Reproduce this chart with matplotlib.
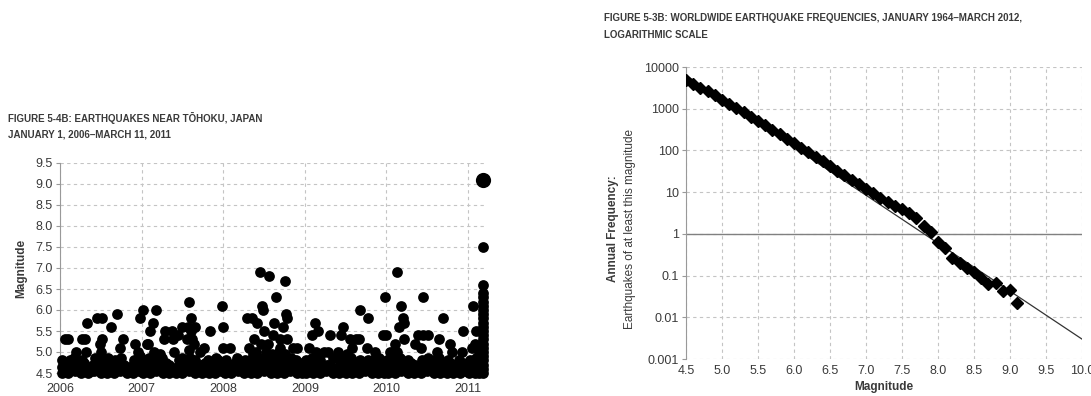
import matplotlib
matplotlib.use('Agg')
import matplotlib.pyplot as plt
from matplotlib.ticker import FixedLocator

plt.rcParams['font.family'] = ['Liberation Sans', 'DejaVu Sans']

# ---- Figure 5-4B: quakes near Tohoku, (fraction of year, magnitude) ----
eq_2006 = [(0.02, 4.5), (0.02, 4.65), (0.03, 4.8), (0.10, 4.5), (0.09, 4.7), (0.12, 4.8),
           (0.18, 4.55), (0.19, 4.7), (0.17, 4.85), (0.26, 4.5), (0.25, 4.65), (0.27, 4.8),
           (0.34, 4.5), (0.36, 4.6), (0.42, 4.55), (0.41, 4.7), (0.43, 4.85), (0.50, 4.5),
           (0.49, 4.65), (0.51, 4.8), (0.58, 4.5), (0.57, 4.7), (0.59, 4.85), (0.66, 4.5),
           (0.65, 4.65), (0.67, 4.8), (0.74, 4.55), (0.73, 4.7), (0.75, 4.85), (0.82, 4.5),
           (0.81, 4.65), (0.90, 4.5), (0.89, 4.7), (0.91, 4.8), (0.97, 4.55), (0.96, 4.7),
           (0.98, 4.9),
           (0.06, 5.3), (0.10, 5.3), (0.20, 5.0), (0.27, 5.3), (0.31, 5.3), (0.33, 5.7),
           (0.32, 5.0), (0.45, 5.8), (0.51, 5.8), (0.51, 5.3), (0.49, 5.2), (0.50, 5.0),
           (0.63, 5.6), (0.70, 5.9), (0.77, 5.3), (0.74, 5.1), (0.92, 5.2), (0.98, 5.8),
           (0.95, 5.0)]
eq_2007 = [(0.02, 4.5), (0.03, 4.65), (0.04, 4.8), (0.10, 4.5), (0.11, 4.7), (0.09, 4.85),
           (0.18, 4.55), (0.17, 4.7), (0.19, 4.8), (0.26, 4.5), (0.27, 4.65), (0.25, 4.85),
           (0.34, 4.5), (0.33, 4.7), (0.42, 4.5), (0.43, 4.65), (0.50, 4.5), (0.51, 4.7),
           (0.49, 4.85), (0.58, 4.55), (0.57, 4.7), (0.59, 4.85), (0.66, 4.5), (0.67, 4.65),
           (0.65, 4.8), (0.74, 4.5), (0.73, 4.7), (0.82, 4.5), (0.83, 4.65), (0.81, 4.8),
           (0.90, 4.5), (0.89, 4.7), (0.91, 4.85), (0.97, 4.55), (0.98, 4.7),
           (0.02, 6.0), (0.06, 5.2), (0.08, 5.2), (0.10, 5.5), (0.14, 5.7), (0.18, 6.0),
           (0.15, 5.0), (0.22, 4.95), (0.29, 5.5), (0.37, 5.5), (0.27, 5.3), (0.38, 5.3),
           (0.45, 5.4), (0.40, 5.0), (0.50, 5.6), (0.58, 6.2), (0.60, 5.8), (0.57, 5.6),
           (0.65, 5.6), (0.61, 5.5), (0.56, 5.3), (0.62, 5.3), (0.64, 5.2), (0.58, 5.05),
           (0.71, 5.0), (0.77, 5.1), (0.84, 5.5), (0.98, 6.1)]
eq_2008 = [(0.02, 4.5), (0.03, 4.65), (0.04, 4.8), (0.10, 4.5), (0.09, 4.7), (0.18, 4.55),
           (0.19, 4.7), (0.17, 4.85), (0.26, 4.5), (0.25, 4.65), (0.27, 4.8), (0.34, 4.5),
           (0.35, 4.65), (0.33, 4.8), (0.36, 4.95), (0.42, 4.5), (0.41, 4.7), (0.43, 4.85),
           (0.40, 5.0), (0.50, 4.55), (0.51, 4.7), (0.49, 4.85), (0.52, 5.0), (0.58, 4.5),
           (0.57, 4.65), (0.59, 4.8), (0.60, 4.95), (0.66, 4.5), (0.67, 4.7), (0.65, 4.85),
           (0.68, 5.0), (0.74, 4.5), (0.73, 4.65), (0.75, 4.8), (0.76, 4.95), (0.82, 4.55),
           (0.81, 4.7), (0.83, 4.85), (0.90, 4.5), (0.91, 4.65), (0.89, 4.8), (0.97, 4.5),
           (0.96, 4.7),
           (0.00, 5.6), (0.00, 5.1), (0.08, 5.1), (0.29, 5.8), (0.35, 5.8), (0.31, 5.1),
           (0.41, 5.7), (0.38, 5.3), (0.45, 6.9), (0.56, 6.8), (0.47, 6.1), (0.49, 6.0),
           (0.50, 5.5), (0.46, 5.2), (0.65, 6.3), (0.62, 5.7), (0.61, 5.4), (0.76, 6.7),
           (0.77, 5.9), (0.78, 5.8), (0.73, 5.6), (0.69, 5.3), (0.78, 5.3), (0.86, 5.1),
           (0.90, 5.1), (0.55, 5.2), (0.70, 5.1)]
eq_2009 = [(0.02, 4.5), (0.03, 4.65), (0.01, 4.8), (0.10, 4.5), (0.11, 4.7), (0.09, 4.85),
           (0.18, 4.5), (0.17, 4.65), (0.19, 4.8), (0.26, 4.55), (0.27, 4.7), (0.34, 4.5),
           (0.33, 4.65), (0.35, 4.85), (0.42, 4.5), (0.43, 4.7), (0.41, 4.85), (0.50, 4.5),
           (0.49, 4.65), (0.51, 4.8), (0.52, 4.95), (0.58, 4.5), (0.59, 4.7), (0.57, 4.85),
           (0.66, 4.5), (0.65, 4.65), (0.67, 4.8), (0.74, 4.55), (0.75, 4.7), (0.82, 4.5),
           (0.81, 4.65), (0.83, 4.8), (0.90, 4.5), (0.89, 4.7), (0.91, 4.85), (0.97, 4.5),
           (0.98, 4.65),
           (0.12, 5.7), (0.09, 5.4), (0.16, 5.5), (0.05, 5.1), (0.14, 5.0), (0.31, 5.4),
           (0.24, 5.0), (0.28, 5.0), (0.47, 5.6), (0.44, 5.4), (0.41, 5.0), (0.55, 5.3),
           (0.63, 5.3), (0.66, 5.3), (0.68, 6.0), (0.78, 5.8), (0.76, 5.1), (0.58, 5.1),
           (0.86, 5.0), (0.96, 5.4), (0.98, 6.3)]
eq_2010 = [(0.02, 4.5), (0.03, 4.65), (0.01, 4.8), (0.10, 4.5), (0.09, 4.7), (0.11, 4.85),
           (0.18, 4.55), (0.19, 4.7), (0.17, 4.85), (0.26, 4.5), (0.25, 4.65), (0.27, 4.8),
           (0.34, 4.5), (0.35, 4.7), (0.42, 4.5), (0.41, 4.65), (0.43, 4.8), (0.50, 4.55),
           (0.49, 4.7), (0.51, 4.85), (0.58, 4.5), (0.57, 4.65), (0.59, 4.8), (0.66, 4.5),
           (0.67, 4.7), (0.65, 4.85), (0.74, 4.5), (0.73, 4.65), (0.75, 4.8), (0.82, 4.5),
           (0.83, 4.7), (0.90, 4.5), (0.91, 4.65), (0.89, 4.8), (0.97, 4.55), (0.98, 4.7),
           (0.00, 5.4), (0.04, 5.0), (0.13, 6.9), (0.18, 6.1), (0.20, 5.8), (0.21, 5.7),
           (0.16, 5.6), (0.10, 5.2), (0.21, 5.3), (0.13, 5.0), (0.45, 6.3), (0.39, 5.4),
           (0.45, 5.4), (0.51, 5.4), (0.35, 5.2), (0.42, 5.1), (0.69, 5.8), (0.65, 5.3),
           (0.62, 5.0), (0.78, 5.2), (0.80, 5.0), (0.94, 5.5), (0.92, 5.0)]
eq_2011 = [(0.01, 4.5), (0.02, 4.65), (0.03, 4.8), (0.08, 4.5), (0.09, 4.7), (0.10, 4.85),
           (0.14, 4.5), (0.13, 4.65), (0.17, 4.6), (0.17, 4.9), (0.17, 5.2),
           (0.06, 6.1), (0.10, 5.5), (0.05, 5.1), (0.08, 5.2), (0.14, 5.0)]
# smaller shocks filling the 4.5-4.8 band
band_2006 = [(0.06, 4.6), (0.14, 4.75), (0.22, 4.6), (0.30, 4.75), (0.38, 4.55),
             (0.46, 4.75), (0.54, 4.6), (0.62, 4.75), (0.70, 4.6), (0.78, 4.7),
             (0.86, 4.6), (0.94, 4.75)]
band_2007 = [(0.06, 4.6), (0.14, 4.75), (0.22, 4.6), (0.30, 4.75), (0.38, 4.6),
             (0.46, 4.8), (0.54, 4.6), (0.62, 4.75), (0.70, 4.6), (0.78, 4.75),
             (0.86, 4.6), (0.94, 4.8)]
band_2008 = [(0.06, 4.6), (0.14, 4.75), (0.22, 4.6), (0.30, 4.75), (0.38, 4.6),
             (0.46, 4.8), (0.54, 4.6), (0.62, 4.8), (0.70, 4.6), (0.78, 4.75),
             (0.86, 4.6), (0.94, 4.75)]
band_2009 = [(0.06, 4.6), (0.14, 4.75), (0.22, 4.6), (0.30, 4.7), (0.38, 4.6),
             (0.46, 4.75), (0.54, 4.6), (0.62, 4.75), (0.70, 4.6), (0.78, 4.8),
             (0.86, 4.6), (0.94, 4.75)]
band_2010 = [(0.06, 4.6), (0.14, 4.75), (0.22, 4.6), (0.30, 4.75), (0.38, 4.6),
             (0.46, 4.75), (0.54, 4.6), (0.62, 4.75), (0.70, 4.6), (0.78, 4.75),
             (0.86, 4.6), (0.94, 4.75)]
band_2011 = [(0.05, 4.6), (0.12, 4.75)]
# March 9-11 2011 cluster
tohoku_mag = [7.5, 6.6, 6.4, 6.3, 6.2, 6.1, 6.0, 5.9, 5.8, 5.7, 5.6, 5.5, 5.4, 5.3,
              5.2, 5.1, 5.0, 4.9, 4.8, 4.7, 4.6, 4.5]
mainshock_mag = 9.1
tohoku_frac = 0.185
years = [2006, 2007, 2008, 2009, 2010, 2011]

# ---- Figure 5-3B: worldwide frequencies ----
freq_mag = [4.5, 4.6, 4.7, 4.8, 4.9, 5.0, 5.1, 5.2, 5.3, 5.4, 5.5, 5.6, 5.7, 5.8, 5.9,
            6.0, 6.1, 6.2, 6.3, 6.4, 6.5, 6.6, 6.7, 6.8, 6.9, 7.0, 7.1, 7.2, 7.3, 7.4,
            7.5, 7.6, 7.7, 7.8, 7.9, 8.0, 8.1, 8.2, 8.3, 8.4, 8.5, 8.6, 8.7, 8.8, 8.9,
            9.0, 9.1]
freq_annual = [4800, 3900, 3200, 2600, 2100, 1650, 1300, 1050, 830, 650, 520, 400, 310,
               245, 190, 148, 115, 90, 70, 55, 42, 33, 26, 20, 15.5, 12, 9.3, 7.3, 5.9,
               4.7, 4.0, 3.2, 2.4, 1.55, 1.08, 0.64, 0.46, 0.27, 0.2, 0.155, 0.125, 0.088,
               0.062, 0.065, 0.043, 0.044, 0.022]
fit_mag = [4.5, 10.0]
fit_freq = [6300, 0.003]
mag_ticks = [4.5, 5.0, 5.5, 6.0, 6.5, 7.0, 7.5, 8.0, 8.5, 9.0, 9.5, 10.0]
freq_ticks = [0.001, 0.01, 0.1, 1, 10, 100, 1000, 10000]
freq_labels = ['0.001', '0.01', '0.1', '1', '10', '100', '1000', '10000']

W, H = 1091, 396
fig = plt.figure(figsize=(W / 100, H / 100), dpi=100)
txt = '#3a3a3a'
grid_kw = dict(color='#c4c4c4', linestyle=(0, (3, 3)), linewidth=0.8)

# left panel
ax1 = fig.add_axes([60 / W, 1 - 373 / H, 426 / W, 210 / H])
all_eq = [eq_2006, eq_2007, eq_2008, eq_2009, eq_2010, eq_2011,
          band_2006, band_2007, band_2008, band_2009, band_2010, band_2011]
for yr, pts in zip(years * 2, all_eq):
    ax1.scatter([yr + p[0] for p in pts], [p[1] for p in pts], s=60, c='black',
                linewidths=0, clip_on=False, zorder=3)
ax1.scatter([2011 + tohoku_frac] * len(tohoku_mag), tohoku_mag, s=60, c='black',
            linewidths=0, clip_on=False, zorder=3)
ax1.scatter([2011 + tohoku_frac], [mainshock_mag], s=120, c='black', linewidths=0,
            clip_on=False, zorder=3)
ax1.set_xlim(2006, 2011.22)
ax1.set_ylim(4.5, 9.5)
ax1.set_xticks(years)
ax1.set_yticks([4.5, 5.0, 5.5, 6.0, 6.5, 7.0, 7.5, 8.0, 8.5, 9.0, 9.5])
ax1.yaxis.set_major_formatter(lambda v, p: f'{v:.1f}')
ax1.grid(True, **grid_kw)
ax1.set_axisbelow(True)
for s in ['top', 'right', 'bottom']:
    ax1.spines[s].set_visible(False)
ax1.spines['left'].set_color('#999999')
ax1.tick_params(axis='x', length=0, pad=7, labelsize=9, labelcolor=txt)
ax1.tick_params(axis='y', length=3, color='#999999', pad=2, labelsize=9, labelcolor=txt)
ax1.set_ylabel('Magnitude', fontsize=8.5, fontweight='bold', color=txt, labelpad=6)
fig.text(8 / W, 1 - 118 / H, 'FIGURE 5-4B: EARTHQUAKES NEAR TŌHOKU, JAPAN',
         fontsize=7.0, fontweight='bold', color=txt, va='center')
fig.text(8 / W, 1 - 135 / H, 'JANUARY 1, 2006–MARCH 11, 2011',
         fontsize=7.0, fontweight='bold', color=txt, va='center')

# right panel
ax2 = fig.add_axes([686 / W, 1 - 359 / H, 396 / W, 292 / H])
ax2.set_yscale('log')
ax2.plot(fit_mag, fit_freq, color='#333333', linewidth=0.9, zorder=2)
ax2.plot(freq_mag, freq_annual, linestyle='none', marker='D', markersize=6.3,
         color='black', zorder=3)
ax2.axhline(1, color='#808080', linewidth=1.0, zorder=1)
ax2.set_xlim(4.5, 10.0)
ax2.set_ylim(0.001, 10000)
ax2.set_xticks(mag_ticks)
ax2.xaxis.set_major_formatter(lambda v, p: f'{v:.1f}')
ax2.yaxis.set_major_locator(FixedLocator(freq_ticks))
ax2.yaxis.set_minor_locator(FixedLocator([]))
ax2.set_yticklabels(freq_labels)
ax2.grid(True, **grid_kw)
ax2.set_axisbelow(True)
for s in ['top', 'right', 'bottom']:
    ax2.spines[s].set_visible(False)
ax2.spines['left'].set_color('#999999')
ax2.tick_params(axis='x', length=0, pad=4, labelsize=9, labelcolor=txt)
ax2.tick_params(axis='y', length=3, color='#999999', pad=2, labelsize=9, labelcolor=txt)
ax2.set_xlabel('Magnitude', fontsize=8.5, fontweight='bold', color=txt, labelpad=3)
fig.text(613 / W, 1 - 229 / H, 'Annual Frequency:', rotation=90, fontsize=8.5,
         fontweight='bold', color=txt, ha='center', va='center')
fig.text(630 / W, 1 - 229 / H, 'Earthquakes of at least this magnitude', rotation=90,
         fontsize=8.5, color=txt, ha='center', va='center')
fig.text(604 / W, 1 - 18 / H,
         'FIGURE 5-3B: WORLDWIDE EARTHQUAKE FREQUENCIES, JANUARY 1964–MARCH 2012,',
         fontsize=7.0, fontweight='bold', color=txt, va='center')
fig.text(604 / W, 1 - 35 / H, 'LOGARITHMIC SCALE',
         fontsize=7.0, fontweight='bold', color=txt, va='center')

fig.savefig('out.png', dpi=100)
